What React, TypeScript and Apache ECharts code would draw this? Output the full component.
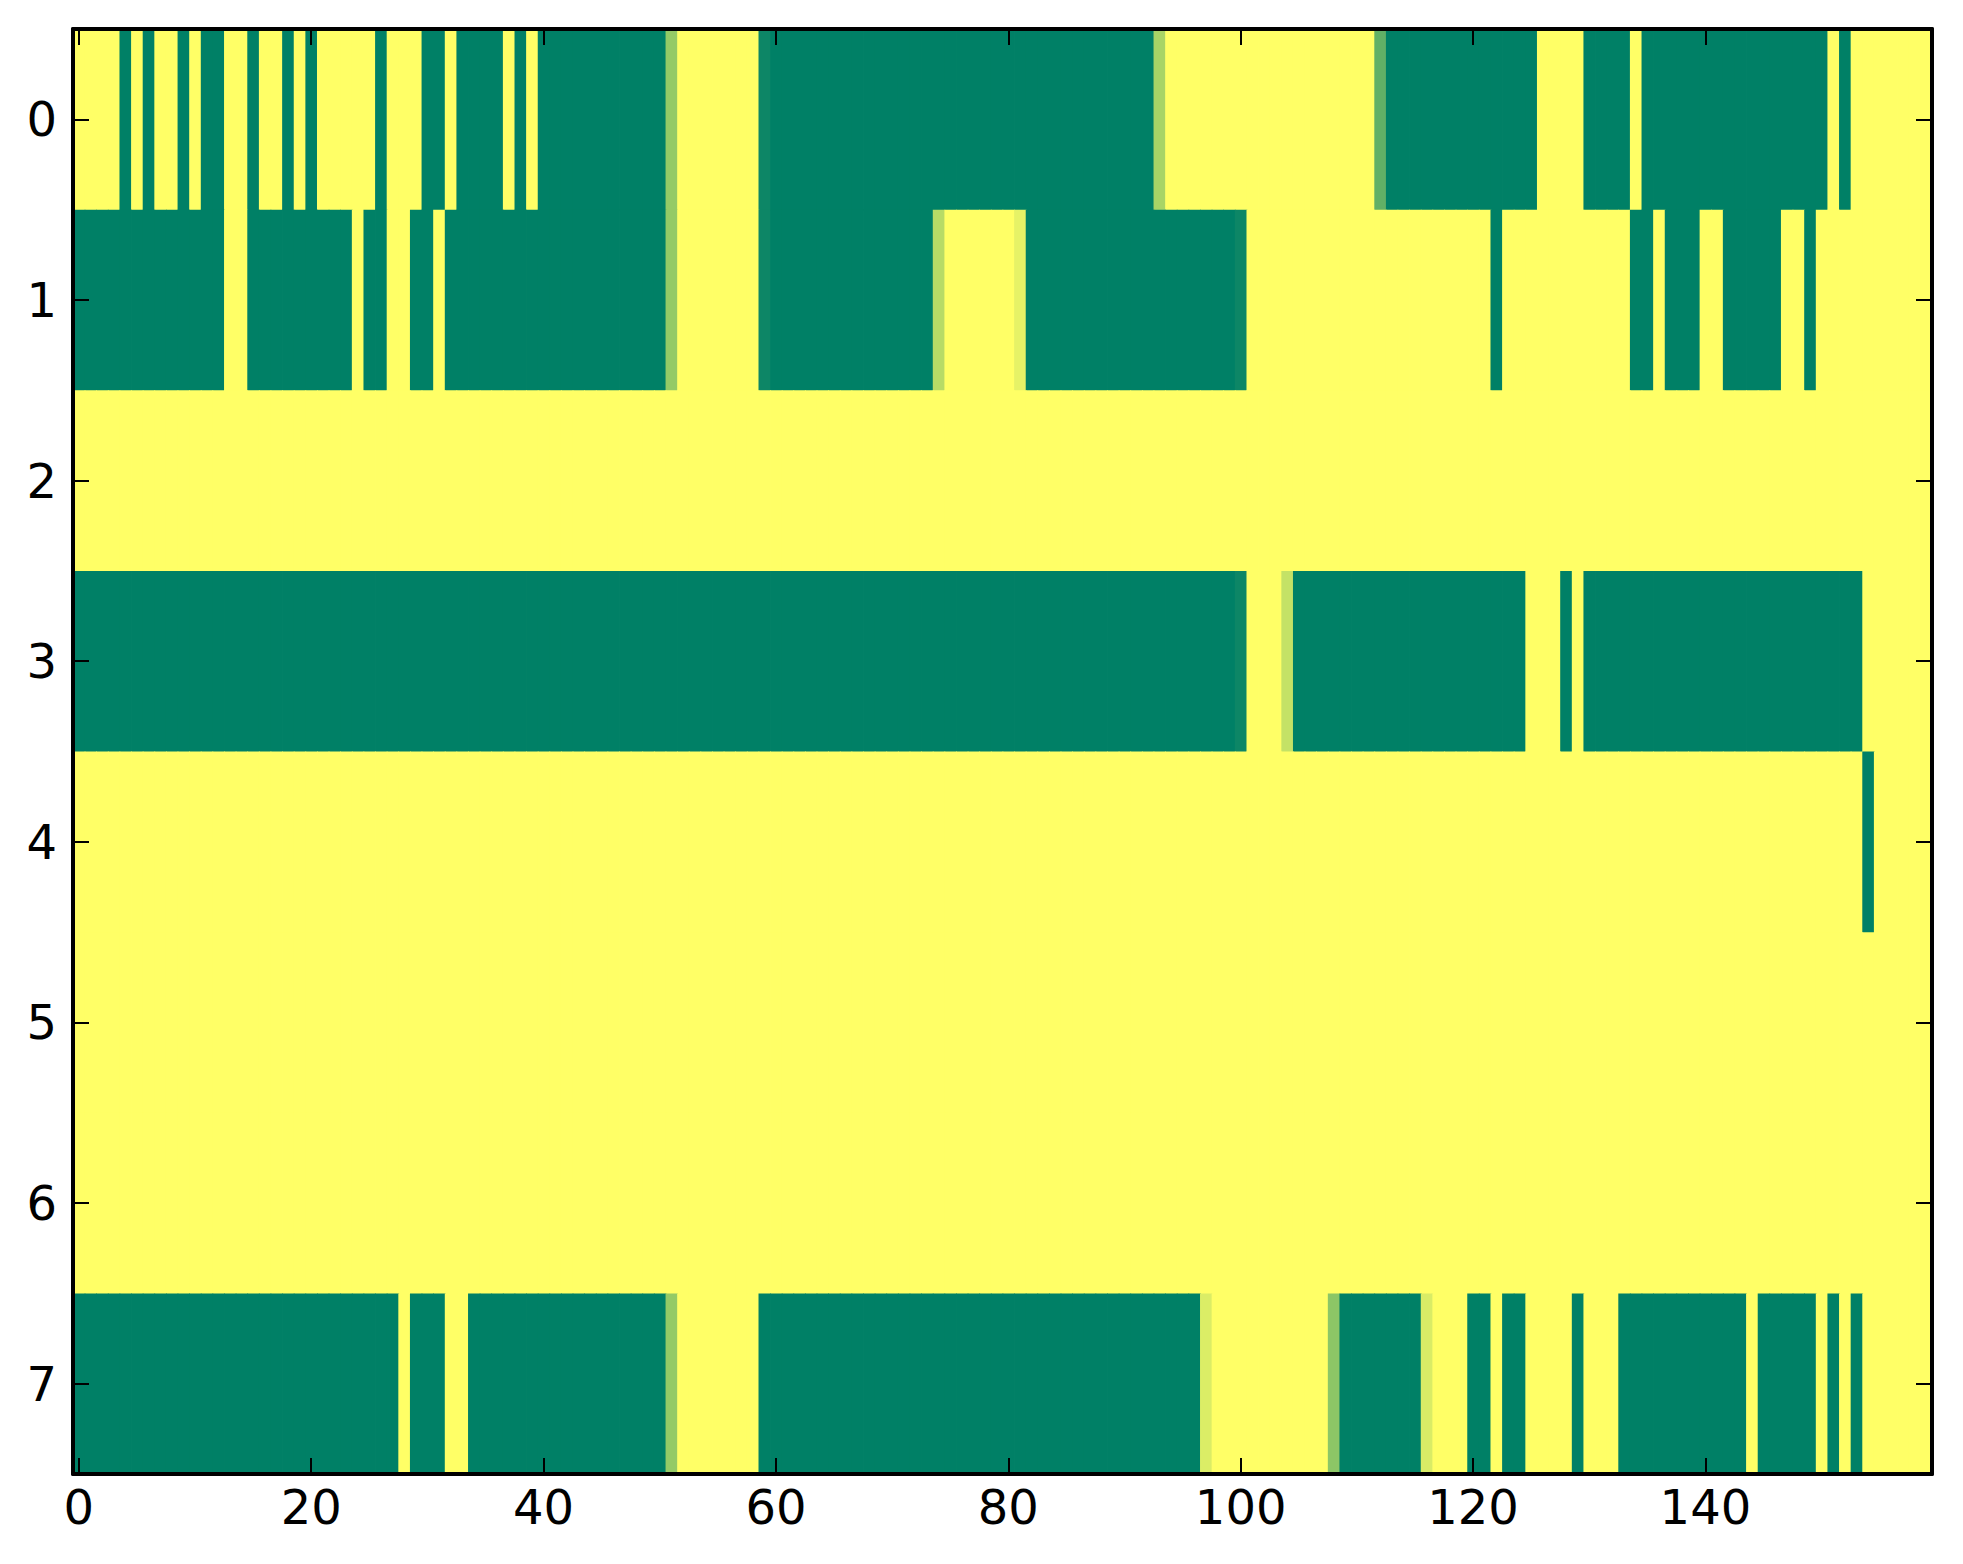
import { useEffect, useRef } from "react";
import * as echarts from "echarts";

// column / row labels of the image grid
const xCategories = Array.from({ length: 160 }, (_, i) => String(i));
const yCategories = ["0", "1", "2", "3", "4", "5", "6", "7"];

// each row as runs of [value, number of columns], read left to right
const row0 = [
  [1, 4], [0, 1], [1, 1], [0, 1], [1, 2], [0, 1], [1, 1], [0, 2], [1, 2], [0, 1],
  [1, 2], [0, 1], [1, 1], [0, 1], [1, 5], [0, 1], [1, 3], [0, 2], [1, 1], [0, 4],
  [1, 1], [0, 1], [1, 1], [0, 11], [0.58, 1], [1, 7], [0.05, 1], [0, 33], [0.66, 1],
  [1, 18], [0.38, 1], [0, 13], [1, 4], [0, 4], [1, 1], [0, 16], [1, 1], [0, 1], [1, 7],
];
const row1 = [
  [0, 13], [1, 2], [0, 9], [1, 1], [0, 2], [1, 2], [0, 2], [1, 1], [0, 19], [0.58, 1],
  [1, 7], [0.05, 1], [0, 14], [0.72, 1], [1, 6], [0.9, 1], [0, 18], [0.05, 1], [1, 21],
  [0, 1], [1, 11], [0, 2], [1, 1], [0, 3], [1, 2], [0, 5], [1, 2], [0, 1], [1, 10],
];
const row2 = [[1, 160]];
const row3 = [
  [0, 100], [0.05, 1], [1, 3], [0.77, 1], [0, 20], [1, 3], [0, 1], [1, 1], [0, 24], [1, 6],
];
const row4 = [[1, 154], [0, 1], [1, 5]];
const row5 = [[1, 160]];
const row6 = [[1, 160]];
const row7 = [
  [0, 28], [1, 1], [0, 3], [1, 2], [0, 17], [0.58, 1], [1, 7], [0, 38], [0.86, 1], [1, 10],
  [0.55, 1], [0, 7], [0.85, 1], [1, 3], [0, 2], [1, 1], [0, 2], [1, 4], [0, 1], [1, 3],
  [0, 11], [1, 1], [0, 5], [1, 1], [0, 1], [1, 1], [0, 1], [1, 6],
];

const rows = [row0, row1, row2, row3, row4, row5, row6, row7];

const everyTwenty = (i: number) => i % 20 === 0;

export default function App() {
  const chartRef = useRef<HTMLDivElement>(null);

  useEffect(() => {
    if (!chartRef.current) return;
    const chart = echarts.init(chartRef.current, null, { renderer: "svg" });

    const cells: number[][] = [];
    rows.forEach((runs, y) => {
      let x = 0;
      runs.forEach(([v, n]) => {
        for (let k = 0; k < n; k++) {
          cells.push([x, y, v]);
          x++;
        }
      });
    });

    const axisLine = { show: true, lineStyle: { color: "#000", width: 4 } };
    const tickStyle = { color: "#000", width: 2 };
    const labelStyle = {
      color: "#000",
      fontSize: 48,
      fontFamily: "DejaVu Sans",
    };
    const tick = (withInterval: boolean) => ({
      show: true,
      inside: true,
      length: 16,
      alignWithLabel: true,
      ...(withInterval ? { interval: everyTwenty } : {}),
      lineStyle: tickStyle,
    });

    chart.setOption({
      animation: false,
      backgroundColor: "#fff",
      grid: { left: 73, right: 31, top: 29, bottom: 90 },
      visualMap: {
        show: false,
        min: 0,
        max: 1,
        dimension: 2,
        seriesIndex: 0,
        inRange: { color: ["#008066", "#ffff66"] },
      },
      xAxis: [
        {
          type: "category",
          data: xCategories,
          position: "bottom",
          z: 5,
          axisLine,
          axisTick: tick(true),
          axisLabel: { ...labelStyle, interval: everyTwenty, margin: 9 },
          splitLine: { show: false },
        },
        {
          type: "category",
          data: xCategories,
          position: "top",
          z: 5,
          axisLine,
          axisTick: tick(true),
          axisLabel: { show: false },
          splitLine: { show: false },
        },
      ],
      yAxis: [
        {
          type: "category",
          data: yCategories,
          inverse: true,
          position: "left",
          z: 5,
          axisLine,
          axisTick: tick(false),
          axisLabel: { ...labelStyle, margin: 16 },
          splitLine: { show: false },
        },
        {
          type: "category",
          data: yCategories,
          inverse: true,
          position: "right",
          z: 5,
          axisLine,
          axisTick: tick(false),
          axisLabel: { show: false },
          splitLine: { show: false },
        },
      ],
      series: [
        {
          type: "custom",
          xAxisIndex: 0,
          yAxisIndex: 0,
          data: cells,
          encode: { x: 0, y: 1 },
          silent: true,
          renderItem: (_params: any, api: any) => {
            const c = api.coord([api.value(0), api.value(1)]);
            const s = api.size([1, 1]);
            // slight overlap so neighbouring cells leave no seams
            return {
              type: "rect",
              shape: {
                x: c[0] - s[0] / 2,
                y: c[1] - s[1] / 2,
                width: s[0] + 0.8,
                height: s[1] + 0.8,
              },
              style: { fill: api.visual("color") },
            };
          },
        },
      ],
    });

    return () => {
      chart.dispose();
    };
  }, []);

  return (
    <div
      ref={chartRef}
      style={{ position: "fixed", left: 0, top: 0, width: 1963, height: 1564 }}
    />
  );
}
